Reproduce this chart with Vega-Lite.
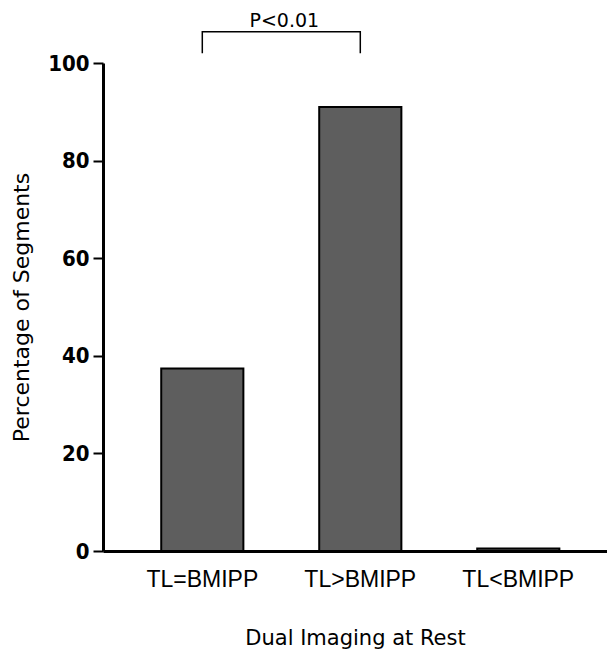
{
  "$schema": "https://vega.github.io/schema/vega-lite/v6.json",
  "width": 504,
  "height": 488,
  "autosize": {"type": "none"},
  "padding": {"left": 103, "top": 63, "right": 0, "bottom": 102},
  "background": "white",
  "config": {"view": {"stroke": null}, "font": "DejaVu Sans"},
  "datasets": {
    "bars": [
      {"group": "TL=BMIPP", "value": 37.4},
      {"group": "TL>BMIPP", "value": 91},
      {"group": "TL<BMIPP", "value": 0.5}
    ],
    "bracket": [
      {"group": "TL=BMIPP", "value": 102, "o": 1},
      {"group": "TL=BMIPP", "value": 106.4, "o": 2},
      {"group": "TL>BMIPP", "value": 106.4, "o": 3},
      {"group": "TL>BMIPP", "value": 102, "o": 4}
    ],
    "sig": [
      {"group": "TL=BMIPP", "value": 107.4, "label": "P<0.01"}
    ]
  },
  "encoding": {
    "x": {
      "field": "group",
      "type": "nominal",
      "sort": ["TL=BMIPP", "TL>BMIPP", "TL<BMIPP"],
      "scale": {"paddingInner": 0.48, "paddingOuter": 0.335, "align": 0.55},
      "axis": {
        "title": "Dual Imaging at Rest",
        "titleFont": "DejaVu Sans",
        "titleFontSize": 21,
        "titleFontWeight": "normal",
        "titleColor": "black",
        "titlePadding": 36,
        "labelFont": "Liberation Sans",
        "labelFontSize": 23,
        "labelColor": "black",
        "labelAngle": 0,
        "labelPadding": 17,
        "ticks": false,
        "domainColor": "black",
        "domainWidth": 3,
        "grid": false
      }
    },
    "y": {
      "field": "value",
      "type": "quantitative",
      "scale": {"domain": [0, 100], "nice": false},
      "axis": {
        "values": [0, 20, 40, 60, 80, 100],
        "title": "Percentage of Segments",
        "titleFont": "DejaVu Sans",
        "titleFontSize": 22,
        "titleFontWeight": "normal",
        "titleColor": "black",
        "titleX": -70,
        "labelFont": "DejaVu Sans Condensed, Liberation Sans",
        "labelFontSize": 22,
        "labelFontWeight": "bold",
        "labelColor": "black",
        "labelPadding": 4,
        "tickSize": 10,
        "tickWidth": 2,
        "tickColor": "black",
        "domainColor": "black",
        "domainWidth": 3,
        "grid": false
      }
    }
  },
  "layer": [
    {
      "data": {"name": "bars"},
      "mark": {"type": "bar", "fill": "#5e5e5e", "stroke": "black", "strokeWidth": 2}
    },
    {
      "data": {"name": "bracket"},
      "mark": {"type": "line", "color": "black", "strokeWidth": 1.5},
      "encoding": {"order": {"field": "o", "type": "quantitative"}}
    },
    {
      "data": {"name": "sig"},
      "mark": {"type": "text", "dx": 82, "align": "center", "baseline": "alphabetic", "fontSize": 19, "font": "DejaVu Sans", "color": "black"},
      "encoding": {"text": {"field": "label"}}
    }
  ]
}
